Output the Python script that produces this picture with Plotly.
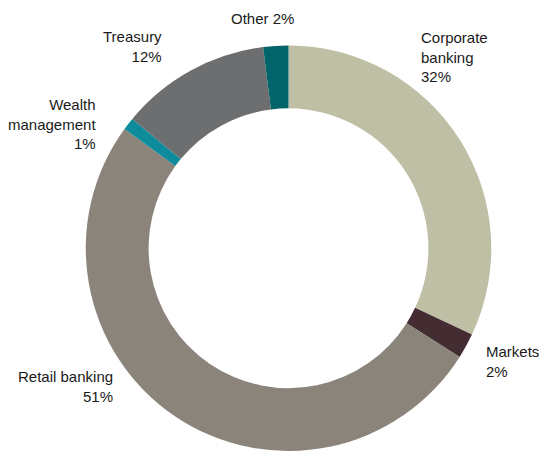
import plotly.graph_objects as go

# Revenue mix by business segment (clockwise from 12 o'clock)
segments = ["Corporate banking", "Markets", "Retail banking",
            "Wealth management", "Treasury", "Other"]
shares = [32, 2, 51, 1, 12, 2]
label_lines = ["Corporate<br>banking", "Markets", "Retail banking",
               "Wealth<br>management", "Treasury", "Other"]
colors = ["#BEBFA5", "#432D33", "#8A847A", "#0E8C9B", "#6C6E6F", "#00646A"]

W, H = 541, 451

fig = go.Figure(go.Pie(
    labels=segments,
    values=shares,
    hole=0.69,
    sort=False,
    direction="clockwise",
    rotation=0,
    marker=dict(colors=colors, line=dict(width=0)),
    textinfo="none",
    hoverinfo="label+percent",
    domain=dict(x=[85.5 / W, 491.5 / W], y=[0.0, 405.5 / H]),
    showlegend=False,
))

# Outside label placement (pixel anchor, horizontal anchor) per segment
label_pos = {
    "Corporate banking": (419, 57, "left"),
    "Markets": (484, 361, "left"),
    "Retail banking": (115, 386, "right"),
    "Wealth management": (98, 124, "right"),
    "Treasury": (164, 46, "right"),
    "Other": (262, 19, "center"),
}

annotations = []
for seg, line, val in zip(segments, label_lines, shares):
    px, py, anchor = label_pos[seg]
    sep = " " if seg == "Other" else "<br>"
    annotations.append(dict(
        text=f"{line}{sep}{val}%",
        x=px / W, y=1 - py / H,
        xref="paper", yref="paper",
        xanchor=anchor, yanchor="middle",
        align=anchor if anchor != "center" else "center",
        showarrow=False,
        font=dict(family="Liberation Sans, Arial, sans-serif", size=15, color="#1a1a1a"),
    ))

fig.update_layout(
    width=W, height=H,
    margin=dict(l=0, r=0, t=0, b=0),
    paper_bgcolor="white",
    plot_bgcolor="white",
    annotations=annotations,
)

fig.write_html("out.html")
